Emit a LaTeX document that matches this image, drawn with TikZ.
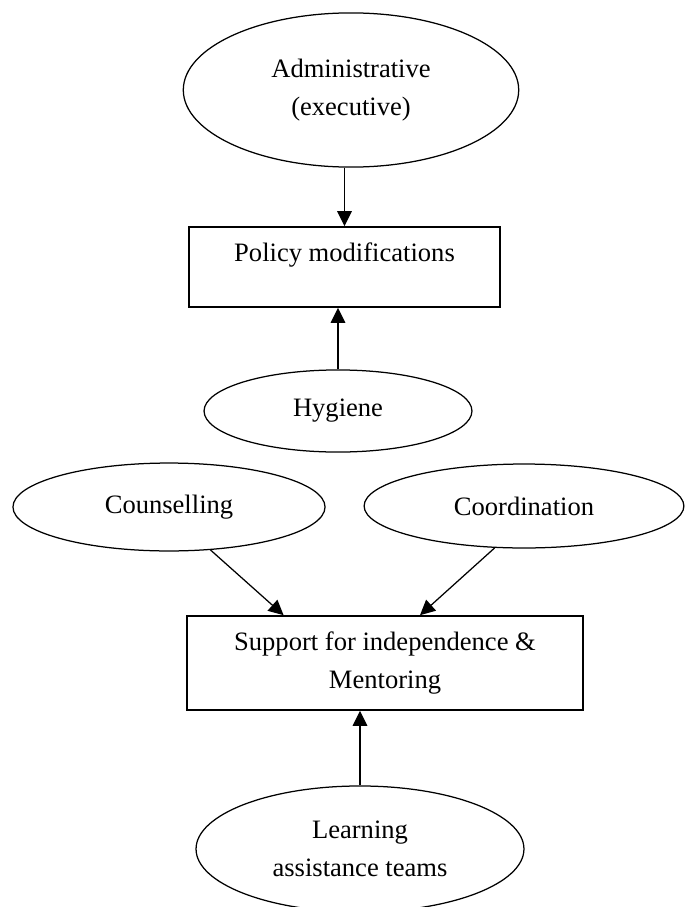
\documentclass[tikz,border=0pt]{standalone}
\usepackage{fontspec}
\setmainfont{Liberation Serif}
\usetikzlibrary{arrows.meta,shapes,calc}
\tikzstyle{oval}=[ellipse,draw,line width=0.6pt,inner sep=0pt,align=center,font=\fontsize{12.75}{18}\selectfont]
\tikzstyle{box}=[rectangle,draw,line width=0.8pt,inner sep=0pt,align=center,font=\fontsize{12.75}{18}\selectfont]
\tikzstyle{edge} = [draw,line width=0.6pt,-{Triangle[length=7.2pt,width=7pt]}]

\begin{document}
\begin{tikzpicture}[x=0.48pt,y=-0.48pt]
    \useasboundingbox (0,0) rectangle (685,907);

    \foreach \pos/\name/\wid/\hei/\txt in {{(351,90)/admin/161pt/74pt/{Administrative\\(executive)}}, {(338,411)/hyg/128.6pt/39.4pt/Hygiene}, {(169,507)/couns/149.8pt/42.2pt/Counselling}, {(524,506)/coord/153.5pt/40.3pt/Coordination}, {(360,849)/learn/157.4pt/60.5pt/{Learning\\assistance teams}}}
        \node[oval,minimum width=\wid,minimum height=\hei] (\name) at \pos {\txt};

    \node[box,minimum width=149.3pt,minimum height=38.4pt,text height=9pt,text depth=14.6pt] (pol) at (344.5,267) {Policy modifications};
    \node[box,minimum width=190pt,minimum height=45.1pt] (sup) at (385,663) {Support for independence \&\\Mentoring};

    \path[edge] (admin.south -| pol.north) -- (pol.north);
    \path[edge] (hyg.north) -- (hyg.north |- pol.south);
    \path[edge] (couns.-46) -- ($(sup.north west)!0.245!(sup.north east)$);
    \path[edge] (coord.-125) -- ($(sup.north west)!0.588!(sup.north east)$);
    \path[edge] (learn.north) -- (learn.north |- sup.south);

\end{tikzpicture}
\end{document}
